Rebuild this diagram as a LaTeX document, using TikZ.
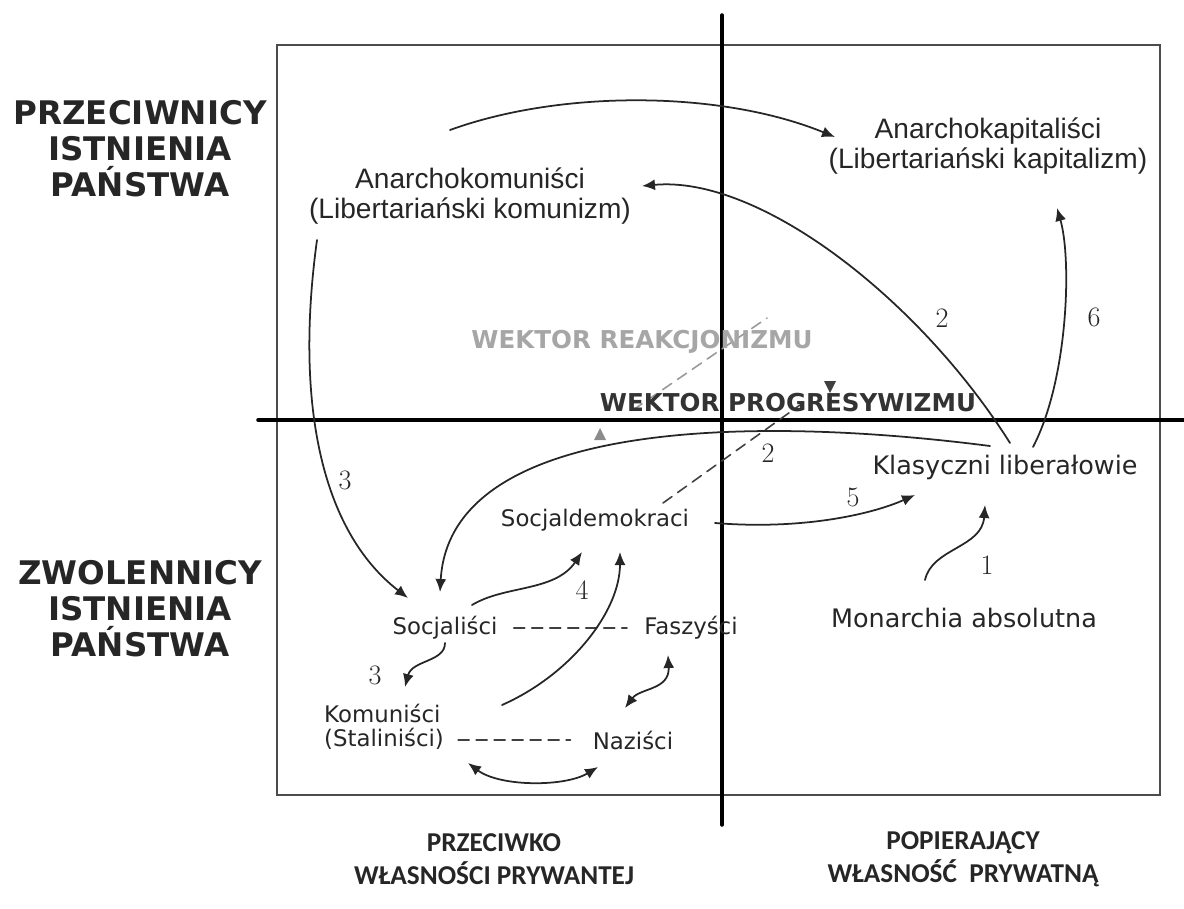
\documentclass[tikz,border=0pt]{standalone}
\usepackage{fontspec}
\newfontfamily\verd{DejaVu Sans}
\newfontfamily\ari{Liberation Sans}
\newfontfamily\carl{Carlito}
\usetikzlibrary{arrows.meta}

\tikzset{
	party/.style={font=\verd\fontsize{13}{14}\selectfont, inner sep=0pt, text=black!85},
	bigparty/.style={font=\verd\fontsize{14.5}{16}\selectfont, inner sep=0pt, text=black!85},
	anarch/.style={font=\ari\fontsize{16}{17}\selectfont, inner sep=0pt, align=center, text=black!85},
	side/.style={font=\verd\bfseries\fontsize{18.5}{20.5}\selectfont, align=center, inner sep=0pt, text=black!85},
	prop/.style={font=\carl\bfseries\fontsize{15.5}{18.8}\selectfont, align=center, inner sep=0pt, text=black!85},
	num/.style={font=\fontsize{16}{16}\selectfont, inner sep=0pt, text=black!85},
	arr/.style={line width=1pt, draw=black!85, -{Latex[length=2.6mm,width=2.2mm]}},
	darr/.style={line width=1pt, draw=black!85, {Latex[length=2.6mm,width=2.2mm]}-{Latex[length=2.6mm,width=2.2mm]}},
	link/.style={line width=0.9pt, draw=black!75, dash pattern=on 2.2mm off 1.4mm},
}

\begin{document}
\begin{tikzpicture}[x=0.02cm, y=-0.02cm, line cap=round]
		\useasboundingbox (0,0) rectangle (1184,909);
		
		% Frame and axes
		\coordinate (N) at (722,15);
		\coordinate (S) at (722,825);
		\coordinate (W) at (258,420);
		\coordinate (E) at (1185,420);
		\draw[draw=black!70, line width=1.6pt] (277,45) rectangle (1160,795);
		\draw[line width=2pt] (N) -- (S);
		\draw[line width=2pt] (W) -- (E);
		
		% Side labels
		\node[side] (anti) at (140,149) {PRZECIWNICY\\ISTNIENIA\\PAŃSTWA};
		\node[side] (pro) at (140,609) {ZWOLENNICY\\ISTNIENIA\\PAŃSTWA};
		\node[prop] (ownno) at (494,859) {PRZECIWKO\\WŁASNOŚCI PRYWANTEJ};
		\node[prop] (ownyes) at (963,859) {POPIERAJĄCY\\WŁASNOŚĆ\ \ PRYWATNĄ};
		
		% Vectors
		\coordinate (r1) at (633,410);
		\coordinate (r2) at (767,318);
		\coordinate (p1) at (663,503);
		\coordinate (p2) at (800,405);
		\draw[link, draw=black!40] (r1) -- (r2);
		\draw[link] (p1) -- (p2);
		\fill[black!45] (600,428) -- (594,440) -- (606,440) -- cycle;
		\fill[black!75] (824,381) -- (836,381) -- (830,393) -- cycle;
		\node[font=\verd\bfseries\fontsize{14}{14}\selectfont, text=black!35] (reak) at (642,342) {WEKTOR REAKCJONIZMU};
		\node[font=\verd\bfseries\fontsize{14}{14}\selectfont, text=black!80] (prog) at (788,403) {WEKTOR PROGRESYWIZMU};
		
		% Nodes
		\node[anarch] (akom) at (470,196) {Anarchokomuniści\\(Libertariański komunizm)};
		\node[anarch] (akap) at (988,146) {Anarchokapitaliści\\(Libertariański kapitalizm)};
		\node[bigparty] (klas) at (1005,467) {Klasyczni liberałowie};
		\node[bigparty] (mon) at (964,618) {Monarchia absolutna};
		\node[party] (sdem) at (595,520) {Socjaldemokraci};
		\node[party] (soc) at (445,628) {Socjaliści};
		\node[party] (fas) at (691,628) {Faszyści};
		\node[party, align=left] (kom) at (384,727) {Komuniści\\(Staliniści)};
		\node[party] (naz) at (633,740) {Naziści};
		
		% Dashed links
		\draw[link, shorten <=3.2mm, shorten >=3.4mm] (soc) -- (fas);
		\draw[link, shorten <=2.8mm, shorten >=4.4mm] (kom.east |- naz.center) -- (naz.west);
		
		% Arrow ends
		\coordinate (akom-out) at (450,130);
		\coordinate (akom-in) at (642,186);
		\coordinate (akom-down) at (317,240);
		\coordinate (akap-in) at (835,137);
		\coordinate (akap-up) at (1057,208);
		\coordinate (klas-a) at (1010,443);
		\coordinate (klas-b) at (990,446);
		\coordinate (klas-c) at (1033,447);
		\coordinate (klas-in) at (915,495);
		\coordinate (klas-low) at (985,505);
		\coordinate (mon-out) at (925,580);
		\coordinate (sdem-out) at (715,523);
		\coordinate (sdem-in1) at (582,552);
		\coordinate (sdem-in2) at (620,552);
		\coordinate (soc-in1) at (408,598);
		\coordinate (soc-in2) at (440,592);
		\coordinate (soc-out1) at (472,605);
		\coordinate (soc-out2) at (445,643);
		\coordinate (kom-in) at (405,687);
		\coordinate (kom-out) at (502,705);
		\coordinate (kom-low) at (468,763);
		\coordinate (naz-low) at (598,767);
		\coordinate (naz-up) at (625,708);
		\coordinate (fas-low) at (668,655);
		
		% Arrows
		\draw[arr] (akom-out) .. controls (560,90) and (720,90) .. (akap-in);
		\draw[arr] (klas-a) .. controls (920,300) and (760,175) .. (akom-in);
		\draw[arr] (klas-b) .. controls (750,415) and (450,420) .. (soc-in2);
		\draw[arr] (klas-c) .. controls (1068,380) and (1072,260) .. (akap-up);
		\draw[arr] (akom-down) .. controls (295,400) and (320,530) .. (soc-in1);
		\draw[arr] (sdem-out) .. controls (800,530) and (870,515) .. (klas-in);
		\draw[arr] (mon-out) .. controls (932,548) and (982,548) .. (klas-low);
		\draw[arr] (soc-out1) .. controls (505,585) and (555,592) .. (sdem-in1);
		\draw[arr] (kom-out) .. controls (570,675) and (620,612) .. (sdem-in2);
		\draw[arr] (soc-out2) .. controls (445,662) and (412,660) .. (kom-in);
		\draw[darr] (naz-up) .. controls (640,688) and (670,690) .. (fas-low);
		\draw[darr] (kom-low) .. controls (500,787) and (565,787) .. (naz-low);
		
		% Numbers
		\node[num] (n2a) at (942,318) {2};
		\node[num] (n6) at (1094,317) {6};
		\node[num] (n3a) at (345,480) {3};
		\node[num] (n2b) at (768,453) {2};
		\node[num] (n5) at (853,497) {5};
		\node[num] (n1) at (987,565) {1};
		\node[num] (n4) at (582,590) {4};
		\node[num] (n3b) at (375,675) {3};
	\end{tikzpicture}
\end{document}
